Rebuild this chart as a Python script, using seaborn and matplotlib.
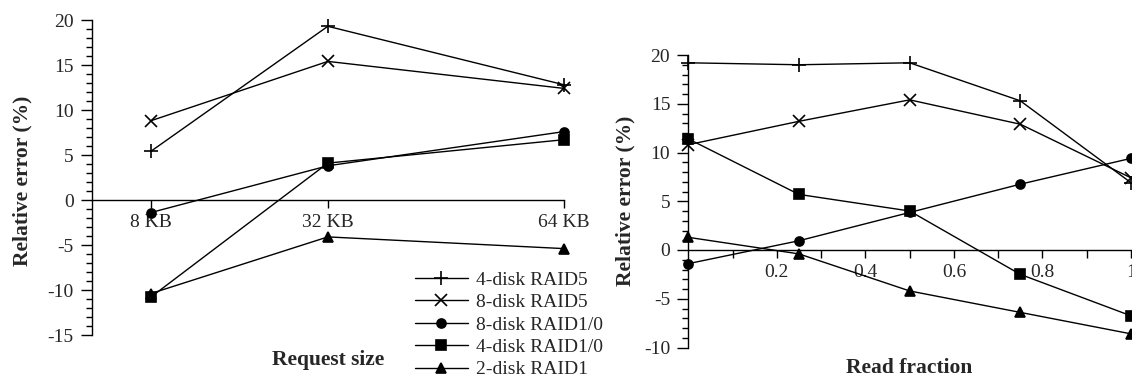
import numpy as np
import pandas as pd
import matplotlib
matplotlib.use("Agg")
import matplotlib.pyplot as plt
import seaborn as sns

# series names and marker per series
configs = ["4-disk RAID5", "8-disk RAID5", "8-disk RAID1/0", "4-disk RAID1/0", "2-disk RAID1"]
markers = ["+", "x", "o", "s", "^"]
msizes = [10, 9, 6.5, 6.5, 7]

# left panel: request size (KB)
req_size = [8, 32, 64]
req_labels = ["8 KB", "32 KB", "64 KB"]
err_req = {
    "4-disk RAID5": [5.4, 19.3, 12.8],
    "8-disk RAID5": [8.8, 15.4, 12.4],
    "8-disk RAID1/0": [-1.4, 3.8, 7.6],
    "4-disk RAID1/0": [-10.8, 4.1, 6.7],
    "2-disk RAID1": [-10.4, -4.1, -5.4],
}

# right panel: read fraction
read_frac = [0, 0.25, 0.5, 0.75, 1.0]
err_read = {
    "4-disk RAID5": [19.2, 19.0, 19.2, 15.3, 6.9],
    "8-disk RAID5": [10.8, 13.2, 15.4, 12.9, 7.4],
    "8-disk RAID1/0": [-1.4, 0.95, 3.85, 6.75, 9.4],
    "4-disk RAID1/0": [11.4, 5.7, 4.0, -2.5, -6.75],
    "2-disk RAID1": [1.3, -0.4, -4.2, -6.4, -8.6],
}

sns.set_style("white")
plt.rcParams["font.family"] = ["Liberation Serif", "DejaVu Serif"]
plt.rcParams["axes.unicode_minus"] = False

W, H = 1132, 379
fig = plt.figure(figsize=(W / 100, H / 100), dpi=100)
ax1 = fig.add_axes([91.7 / W, 1 - 335 / H, (564 - 91.7) / W, 315 / H])
ax2 = fig.add_axes([688.3 / W, 1 - 347.5 / H, (1131 - 688.3) / W, 292.5 / H])

for name, m, ms in zip(configs, markers, msizes):
    df = pd.DataFrame({"x": req_size, "y": err_req[name]})
    sns.lineplot(data=df, x="x", y="y", ax=ax1, color="black", lw=1.0,
                 marker=m, markersize=ms, mec="black", mfc="black", mew=1.2,
                 label=name, legend=False, clip_on=False)
    df = pd.DataFrame({"x": read_frac, "y": err_read[name]})
    sns.lineplot(data=df, x="x", y="y", ax=ax2, color="black", lw=1.0,
                 marker=m, markersize=ms, mec="black", mfc="black", mew=1.2,
                 legend=False, clip_on=False)


def style_axis(ax, ylo, yhi):
    ax.set_ylim(ylo, yhi)
    for s in ["top", "right"]:
        ax.spines[s].set_visible(False)
    ax.spines["bottom"].set_position(("data", 0))
    for s in ["left", "bottom"]:
        ax.spines[s].set_color("black")
        ax.spines[s].set_linewidth(1.0)
    ax.set_yticks(np.arange(ylo, yhi + 1, 5))
    ax.set_yticks(np.arange(ylo, yhi + 1, 1), minor=True)
    ax.tick_params(axis="y", which="major", direction="out", length=8, width=1,
                   labelsize=14, color="black", left=True, pad=5)
    ax.tick_params(axis="y", which="minor", direction="out", length=4, width=1,
                   color="black", left=True)
    ax.tick_params(axis="x", which="major", direction="out", length=6, width=1,
                   labelsize=14, color="black", bottom=True, pad=4)
    ax.set_xlabel("")
    ax.set_ylabel("Relative error (%)", fontsize=15.5, fontweight="bold")


style_axis(ax1, -15, 20)
ax1.set_xlim(0, 64)
ax1.set_xticks(req_size)
ax1.set_xticklabels(req_labels)
ax1.yaxis.set_label_coords(-0.125, 0.49)
ax1.text(0.5, -0.08, "Request size", transform=ax1.transAxes, ha="center",
         va="center", fontsize=15.5, fontweight="bold")

style_axis(ax2, -10, 20)
ax2.set_xlim(0, 1)
xt = np.round(np.arange(0.1, 1.01, 0.1), 1)
ax2.set_xticks(xt)
ax2.set_xticklabels(["", "0.2", "", "0.4", "", "0.6", "", "0.8", "", "1"])
ax2.yaxis.set_label_coords(-0.12, 0.5)
ax2.text(0.5, -0.07, "Read fraction", transform=ax2.transAxes, ha="center",
         va="center", fontsize=15.5, fontweight="bold")

handles, labels = ax1.get_legend_handles_labels()
fig.legend(handles, labels, loc="upper left", bbox_to_anchor=(415 / W, 1 - 271 / H),
           bbox_transform=fig.transFigure, frameon=False, fontsize=14,
           borderpad=0, borderaxespad=0, labelspacing=0.25, handlelength=2.7,
           handletextpad=0.45)

fig.savefig("out.png", dpi=100)
